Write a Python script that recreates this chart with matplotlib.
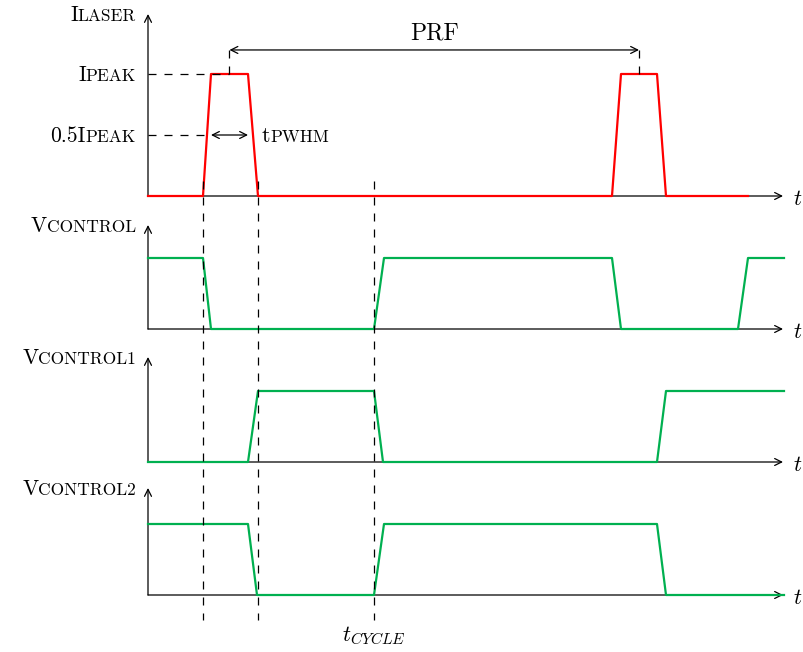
import matplotlib
matplotlib.use("Agg")
import matplotlib.pyplot as plt
from matplotlib.lines import Line2D
from matplotlib.transforms import blended_transform_factory

plt.rcParams['mathtext.fontset'] = 'cm'
plt.rcParams['font.family'] = 'cmr10'
plt.rcParams['axes.formatter.use_mathtext'] = True

# waveforms: time (arbitrary units) and normalised level
laser_t = [0, 5.5, 6.3, 10.0, 11.0, 46.4, 47.3, 50.9, 51.8, 60.0]
laser_i = [0, 0, 1, 1, 0, 0, 1, 1, 0, 0]
ctrl_t = [0, 5.5, 6.3, 22.6, 23.6, 46.4, 47.3, 59.0, 60.0, 63.6]
ctrl_v = [1, 1, 0, 0, 1, 1, 0, 0, 1, 1]
ctrl1_t = [0, 10.0, 11.0, 22.6, 23.5, 50.9, 51.8, 63.6]
ctrl1_v = [0, 0, 1, 1, 0, 0, 1, 1]
ctrl2_t = [0, 10.0, 10.9, 22.6, 23.6, 50.9, 51.8, 63.6]
ctrl2_v = [1, 1, 0, 0, 1, 1, 0, 0]
marker_t = [5.5, 11.0, 22.6]   # vertical dashed guides

RED = '#ff0000'
GREEN = '#00b050'
W, H = 804, 652
X0, X1 = 148, 784
T_MAX = 63.6
T_AXIS = 63.5
BIG, SMALL = 15.5, 12.5
DASH = (0, (6.4, 6.4))

fig = plt.figure(figsize=(W / 100, H / 100), dpi=100)


def arrow(ax, start, end, style='->'):
    ax.annotate('', xy=end, xytext=start, annotation_clip=False,
                arrowprops=dict(arrowstyle=style + ',head_length=0.5,head_width=0.25',
                                lw=0.9, color='black', shrinkA=0, shrinkB=0,
                                mutation_scale=10))


def panel(top, base, unit):
    ax = fig.add_axes([X0 / W, 1 - base / H, (X1 - X0) / W, (base - top) / H])
    ymax = (base - top) / unit
    ax.set_xlim(0, T_MAX)
    ax.set_ylim(0, ymax)
    ax.axis('off')
    arrow(ax, (0, 0), (0, ymax))
    arrow(ax, (0, 0), (T_AXIS, 0))
    ax.annotate('$t$', xy=(T_AXIS, 0), xytext=(7.5, -6.5), textcoords='offset points',
                ha='left', va='baseline', fontsize=16, annotation_clip=False)
    return ax, ymax


def sclabel(ax, big, small, y):
    # big letter followed by small caps subscript, right aligned at the axis
    s = ax.annotate(small, xy=(0, y), xytext=(-8.6, -5.3), textcoords='offset points',
                    ha='right', va='baseline', fontsize=SMALL, annotation_clip=False)
    ax.annotate(big, xy=(0, y), xycoords=(s, ax.transData), xytext=(0, -5.3),
                textcoords='offset points', ha='right', va='baseline', fontsize=BIG,
                annotation_clip=False)


ax1, top1 = panel(14, 196, 122)
ax2, top2 = panel(225, 329, 71)
ax3, top3 = panel(357, 462, 71)
ax4, top4 = panel(488, 595, 71)

ax1.plot(laser_t, laser_i, color=RED, lw=1.6, clip_on=False, zorder=3)
ax2.plot(ctrl_t, ctrl_v, color=GREEN, lw=1.6, clip_on=False, zorder=3)
ax3.plot(ctrl1_t, ctrl1_v, color=GREEN, lw=1.6, clip_on=False, zorder=3)
ax4.plot(ctrl2_t, ctrl2_v, color=GREEN, lw=1.6, clip_on=False, zorder=3)

sclabel(ax1, 'I', 'LASER', top1)
sclabel(ax1, 'I', 'PEAK', 1)
sclabel(ax1, '0.5I', 'PEAK', 0.5)
sclabel(ax2, 'V', 'CONTROL', top2)
sclabel(ax3, 'V', 'CONTROL1', top3)
sclabel(ax4, 'V', 'CONTROL2', top4)

# laser annotations
c1 = (laser_t[2] + laser_t[3]) / 2
c2 = (laser_t[6] + laser_t[7]) / 2
half_x = (laser_t[1] + laser_t[2]) / 2
prf_y = 1.197
ax1.plot([0, c1], [1, 1], color='black', lw=0.9, ls=DASH, clip_on=False, zorder=4)
ax1.plot([0, half_x], [0.5, 0.5], color='black', lw=0.9, ls=DASH, clip_on=False, zorder=4)
ax1.plot([c1, c1], [1, prf_y], color='black', lw=0.9, ls=DASH, clip_on=False, zorder=4)
ax1.plot([c2, c2], [1, prf_y], color='black', lw=0.9, ls=DASH, clip_on=False, zorder=4)
arrow(ax1, (c1, prf_y), (c2, prf_y), '<->')
ax1.annotate('PRF', xy=((c1 + c2) / 2, prf_y), xytext=(0, 7.2), textcoords='offset points',
             ha='center', va='baseline', fontsize=17, annotation_clip=False)
arrow(ax1, (laser_t[2], 0.5), (laser_t[3], 0.5), '<->')
tb = ax1.annotate('t', xy=(laser_t[3], 0.5), xytext=(10, -5.3), textcoords='offset points',
                  ha='left', va='baseline', fontsize=BIG, annotation_clip=False)
ax1.annotate('PWHM', xy=(1, 0.5), xycoords=(tb, ax1.transData), xytext=(0, -5.3),
             textcoords='offset points', ha='left', va='baseline', fontsize=SMALL,
             annotation_clip=False)

# vertical dashed guides through all panels
tr = blended_transform_factory(ax1.transData, fig.transFigure)
for t in marker_t:
    fig.add_artist(Line2D([t, t], [1 - 181 / H, 1 - 620 / H], transform=tr,
                          color='black', lw=0.9, ls=DASH))

ax4.annotate('$t_{CYCLE}$', xy=(marker_t[2], 0), xytext=(0, -33), textcoords='offset points',
             ha='center', va='baseline', fontsize=16, annotation_clip=False)

fig.savefig('out.png', dpi=100)
